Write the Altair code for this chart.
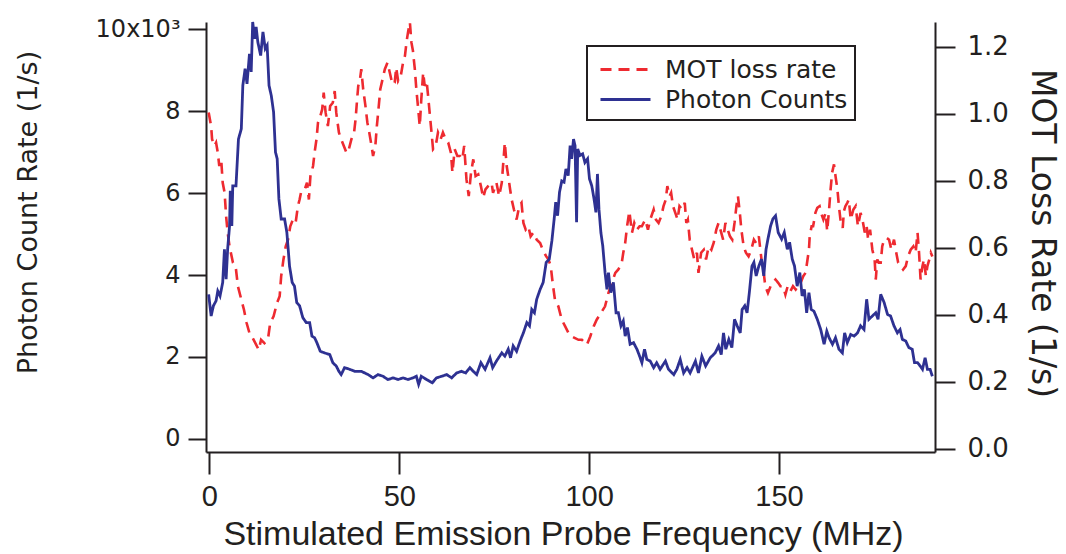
import altair as alt
import pandas as pd

# ---- Photon count rate (x10^3 1/s), left axis ----
photon_freq = [-0.2, 0.45, 1.05, 1.75, 2.2, 2.8, 3.5, 3.96, 4.4, 4.8, 5.3, 5.5, 5.9, 6.15, 7.0, 7.65, 8.4, 8.8, 9.4, 9.9,
               10.55, 11.0, 11.4, 11.9, 12.3, 12.75, 13.5, 14.1, 14.7, 15.2, 15.7, 16.3, 16.9, 17.4, 17.85, 18.3, 18.9,
               19.8, 20.4, 21.1, 21.8, 22.4, 23.0, 23.75, 24.6, 25.5, 26.4, 27.0, 27.7, 28.3, 29.2, 30.3, 31.7, 32.5,
               33.4, 34.1, 34.7, 35.6, 36.9, 38.3, 40.0, 41.8, 43.1, 44.4, 45.7, 47.0, 48.4, 49.7, 51.0, 52.3, 53.6,
               54.5, 55.1, 55.8, 57.2, 58.7, 59.8, 61.2, 62.5, 63.8, 65.1, 66.4, 67.5, 68.6, 69.5, 70.4, 71.5, 72.6,
               73.9, 74.6, 75.6, 77.0, 77.8, 78.7, 79.3, 80.0, 80.9, 82.0, 82.7, 83.6, 84.3, 84.9, 85.6, 86.2, 87.1,
               87.9, 88.7, 89.5, 90.2, 90.8, 91.2, 91.7, 92.2, 92.8, 93.4, 93.9, 94.5, 95.0, 95.4, 95.9, 96.3, 96.7,
               97.0, 97.6, 98.3, 98.9, 99.6, 100.1, 100.7, 101.3, 101.8, 102.2, 102.6, 103.1, 103.6, 104.2, 104.7,
               105.1, 105.7, 106.4, 107.1, 107.7, 108.4, 109.0, 109.5, 110.1, 110.8, 111.7, 112.6, 113.3, 113.9,
               114.6, 115.2, 116.1, 117.0, 117.8, 118.7, 120.1, 120.9, 122.3, 123.1, 124.0, 124.9, 125.8, 126.6,
               128.0, 128.8, 129.7, 130.7, 131.9, 133.2, 134.1, 134.8, 135.4, 136.0, 136.8, 137.6, 138.3, 139.0,
               139.8, 140.3, 141.0, 141.6, 142.2, 142.9, 143.4, 144.0, 144.7, 145.4, 146.0, 146.6, 147.1, 147.8,
               148.4, 149.1, 149.8, 150.7, 151.4, 152.2, 152.8, 153.5, 154.1, 154.8, 155.5, 156.1, 156.7, 157.3,
               157.9, 158.5, 159.2, 160.1, 161.0, 161.9, 162.6, 163.2, 164.1, 164.9, 165.8, 166.7, 167.3, 168.0,
               168.9, 169.8, 170.7, 171.5, 172.4, 173.1, 173.7, 174.6, 175.5, 176.1, 176.8, 177.7, 178.6, 179.4,
               180.3, 181.2, 181.9, 182.5, 183.4, 184.2, 185.1, 185.7, 186.5, 187.2, 187.8, 188.5, 189.1, 189.8, 190.4]
photon_rate = [3.53, 3.0, 3.25, 3.37, 3.61, 3.49, 3.82, 4.63, 3.9, 4.63, 5.2, 6.06, 5.2, 6.18, 6.18, 7.32, 7.57, 8.63,
               9.04, 8.67, 9.4, 8.96, 10.18, 9.77, 10.06, 9.69, 9.36, 9.94, 9.53, 9.61, 8.63, 8.38, 7.98, 7.0, 6.84, 5.86,
               5.37, 5.37, 5.04, 4.22, 3.82, 3.73, 3.33, 3.25, 2.96, 2.84, 2.84, 2.51, 2.47, 2.35, 2.14, 2.10, 2.06, 1.86,
               1.78, 1.65, 1.57, 1.74, 1.70, 1.65, 1.65, 1.57, 1.49, 1.57, 1.53, 1.45, 1.49, 1.45, 1.49, 1.45, 1.49, 1.53,
               1.33, 1.53, 1.45, 1.37, 1.49, 1.53, 1.57, 1.49, 1.61, 1.65, 1.61, 1.74, 1.65, 1.57, 1.86, 1.70, 1.98, 1.74,
               1.90, 2.10, 2.02, 2.19, 1.98, 2.27, 2.14, 2.43, 2.59, 2.84, 2.76, 3.16, 3.08, 3.41, 3.65, 3.82, 4.31, 4.39,
               4.84, 5.37, 5.78, 5.45, 6.02, 6.30, 6.27, 6.59, 6.43, 7.16, 6.84, 7.32, 7.16, 5.29, 7.08, 6.92, 6.96, 6.75,
               6.84, 6.35, 6.18, 5.86, 5.53, 6.47, 5.61, 5.04, 4.71, 4.06, 3.65, 4.06, 3.57, 3.82, 3.08, 3.08, 2.76, 2.88,
               2.51, 2.72, 2.31, 2.35, 2.19, 2.02, 1.86, 2.19, 1.94, 1.90, 1.74, 1.86, 1.70, 1.90, 1.70, 1.57, 1.70, 1.94,
               1.61, 1.74, 1.61, 1.90, 1.61, 2.02, 1.78, 1.98, 2.10, 2.27, 2.06, 2.59, 2.19, 2.43, 2.23, 2.92, 2.76, 2.59,
               3.16, 3.25, 3.08, 3.57, 4.22, 4.31, 3.98, 4.22, 4.39, 3.98, 4.63, 4.88, 5.20, 5.37, 5.45, 5.04, 4.88, 5.04,
               4.63, 4.80, 4.39, 4.22, 3.73, 4.06, 3.49, 3.65, 3.08, 3.57, 3.16, 3.12, 2.92, 2.67, 2.31, 2.63, 2.47, 2.31,
               2.47, 2.19, 2.10, 2.59, 2.35, 2.55, 2.51, 2.59, 2.76, 2.67, 3.41, 2.92, 3.00, 3.08, 2.92, 3.53, 3.33, 3.04,
               3.00, 2.76, 2.59, 2.67, 2.43, 2.39, 2.23, 2.19, 1.86, 1.86, 1.78, 1.70, 1.98, 1.70, 1.70, 1.53]

# ---- MOT loss rate (1/s), right axis ----
mot_freq = [-0.2, 0.45, 0.7, 1.3, 1.75, 2.2, 2.6, 3.1, 3.5, 4.0, 4.4, 4.8, 5.3, 6.2, 6.9, 7.5, 8.4, 9.1, 9.8, 10.55,
            11.4, 12.1, 13.0, 13.6, 14.5, 15.4, 16.0, 16.9, 17.8, 18.5, 18.9, 19.5, 20.1, 20.7, 21.3, 22.0, 22.7, 23.3,
            23.75, 24.2, 25.1, 25.7, 26.2, 26.6, 27.3, 27.7, 28.2, 28.6, 29.2, 29.7, 30.1, 30.6, 31.2, 31.8, 32.5, 33.0,
            33.4, 34.1, 34.7, 35.4, 36.1, 36.5, 37.4, 38.1, 38.5, 38.9, 39.2, 39.6, 40.0, 40.5, 41.1, 41.6, 42.1, 42.7,
            43.1, 43.7, 44.1, 44.6, 45.0, 45.6, 46.2, 46.9, 47.5, 48.2, 48.8, 49.2, 49.7, 50.4, 51.0, 51.5, 51.9, 52.3,
            52.8, 53.2, 53.6, 54.1, 54.5, 55.0, 55.4, 55.8, 56.3, 56.7, 57.2, 57.6, 58.0, 58.5, 58.9, 59.6, 60.2, 60.9,
            61.5, 62.2, 62.9, 63.6, 64.0, 64.6, 65.3, 66.0, 66.6, 67.1, 67.7, 68.3, 68.9, 69.5, 70.1, 70.8, 71.5, 72.1,
            72.7, 73.4, 74.3, 74.7, 75.6, 76.3, 77.0, 77.4, 77.8, 78.3, 78.7, 79.2, 79.6, 80.2, 80.9, 81.6, 82.2, 82.7,
            83.3, 84.0, 84.6, 85.3, 86.2, 87.1, 87.8, 88.7, 89.3, 89.9, 90.4, 91.0, 91.9, 92.8, 93.7, 94.6, 95.4, 96.3,
            97.2, 98.1, 99.4, 100.3, 101.2, 102.0, 103.1, 104.2, 105.1, 106.0, 106.9, 107.7, 108.6, 109.0, 109.5,
            110.0, 110.6, 111.3, 111.9, 112.6, 113.3, 113.9, 114.8, 115.5, 116.1, 117.0, 117.6, 118.3, 119.0, 119.6,
            120.2, 120.6, 121.2, 121.6, 122.1, 122.7, 123.3, 123.8, 124.5, 125.2, 125.6, 126.0, 126.5, 127.1, 127.7,
            128.4, 128.8, 129.5, 130.2, 130.8, 131.5, 132.2, 132.8, 133.5, 134.1, 134.8, 135.3, 135.9, 136.5, 137.1,
            137.7, 138.3, 138.8, 139.2, 139.7, 140.1, 140.7, 141.3, 142.0, 142.7, 143.4, 144.0, 144.7, 145.4, 146.0,
            146.4, 147.1, 147.8, 148.4, 149.1, 149.8, 150.4, 151.1, 151.7, 152.3, 153.0, 153.7, 154.4, 155.0, 155.7,
            156.4, 157.0, 157.4, 157.9, 158.1, 158.6, 159.0, 159.6, 160.1, 160.7, 161.1, 161.7, 162.3, 162.7, 163.2,
            163.6, 164.0, 164.5, 164.9, 165.4, 165.8, 166.2, 166.8, 167.1, 167.5, 168.0, 168.4, 168.9, 169.6, 170.2,
            170.8, 171.5, 172.0, 172.6, 173.1, 173.5, 174.0, 174.6, 175.2, 175.5, 175.9, 176.3, 176.8, 177.2, 177.7,
            178.4, 179.0, 179.6, 180.3, 180.9, 181.4, 182.1, 182.7, 183.4, 184.0, 184.7, 185.4, 186.0, 186.5, 186.9,
            187.3, 187.8, 188.2, 188.7, 189.1, 189.6, 190.0, 190.4]
mot_rate = [1.004, 0.963, 0.924, 0.904, 0.914, 0.884, 0.844, 0.864, 0.794, 0.764, 0.694, 0.645, 0.604, 0.555, 0.545,
            0.485, 0.445, 0.415, 0.375, 0.345, 0.330, 0.315, 0.295, 0.325, 0.315, 0.325, 0.375, 0.395, 0.435, 0.455,
            0.515, 0.565, 0.604, 0.624, 0.664, 0.684, 0.674, 0.724, 0.744, 0.769, 0.774, 0.794, 0.744, 0.814, 0.844,
            0.884, 0.924, 0.974, 0.993, 1.013, 1.063, 1.004, 0.963, 1.023, 1.033, 1.068, 1.004, 0.944, 0.924, 0.904,
            0.884, 0.884, 0.924, 0.944, 0.984, 1.043, 1.083, 1.098, 1.133, 1.073, 1.023, 0.974, 0.944, 0.904, 0.874,
            0.904, 0.963, 1.023, 1.073, 1.103, 1.133, 1.153, 1.123, 1.088, 1.093, 1.138, 1.098, 1.113, 1.153, 1.173,
            1.213, 1.243, 1.273, 1.213, 1.188, 1.133, 1.073, 1.013, 0.963, 1.043, 1.123, 1.083, 1.098, 1.053, 1.004,
            0.944, 0.894, 0.904, 0.944, 0.924, 0.944, 0.924, 0.914, 0.884, 0.824, 0.894, 0.874, 0.874, 0.864, 0.904,
            0.804, 0.754, 0.824, 0.864, 0.814, 0.819, 0.784, 0.749, 0.774, 0.784, 0.794, 0.764, 0.794, 0.754, 0.794,
            0.854, 0.914, 0.844, 0.814, 0.774, 0.744, 0.714, 0.684, 0.724, 0.734, 0.674, 0.654, 0.664, 0.634, 0.645,
            0.624, 0.614, 0.594, 0.574, 0.565, 0.545, 0.495, 0.445, 0.425, 0.385, 0.365, 0.345, 0.335, 0.330, 0.325,
            0.325, 0.310, 0.335, 0.365, 0.385, 0.405, 0.425, 0.465, 0.495, 0.525, 0.535, 0.555, 0.585, 0.614, 0.664,
            0.709, 0.645, 0.674, 0.654, 0.664, 0.664, 0.684, 0.654, 0.684, 0.714, 0.684, 0.674, 0.694, 0.724, 0.744,
            0.784, 0.754, 0.764, 0.724, 0.704, 0.684, 0.724, 0.714, 0.734, 0.674, 0.684, 0.624, 0.594, 0.565, 0.585,
            0.525, 0.585, 0.594, 0.565, 0.604, 0.594, 0.614, 0.654, 0.674, 0.645, 0.624, 0.674, 0.654, 0.634, 0.624,
            0.674, 0.724, 0.754, 0.704, 0.654, 0.604, 0.585, 0.574, 0.594, 0.624, 0.614, 0.634, 0.565, 0.525, 0.485,
            0.465, 0.485, 0.495, 0.505, 0.495, 0.485, 0.485, 0.460, 0.485, 0.470, 0.485, 0.475, 0.485, 0.495, 0.515,
            0.525, 0.555, 0.594, 0.634, 0.664, 0.664, 0.704, 0.719, 0.724, 0.704, 0.684, 0.704, 0.649, 0.714, 0.774,
            0.824, 0.849, 0.814, 0.774, 0.724, 0.684, 0.659, 0.709, 0.724, 0.734, 0.744, 0.684, 0.714, 0.724, 0.664,
            0.704, 0.684, 0.645, 0.664, 0.624, 0.654, 0.594, 0.565, 0.505, 0.565, 0.555, 0.555, 0.604, 0.624, 0.629,
            0.624, 0.594, 0.624, 0.585, 0.555, 0.545, 0.535, 0.545, 0.574, 0.594, 0.604, 0.585, 0.645, 0.585, 0.505,
            0.545, 0.565, 0.515, 0.545, 0.565, 0.585, 0.574]

series_names = ["MOT loss rate", "Photon Counts"]
series_colors = ["#ee2a30", "#2e3192"]
series_dashes = [[11, 7], [1, 0]]

x_ticks = [0, 50, 100, 150]
left_ticks = [0, 2, 4, 6, 8, 10]
right_ticks = [0.0, 0.2, 0.4, 0.6, 0.8, 1.0, 1.2]

df_photon = pd.DataFrame({"freq": photon_freq, "val": photon_rate, "series": "Photon Counts"})
df_mot = pd.DataFrame({"freq": mot_freq, "val": mot_rate, "series": "MOT loss rate"})

INK = "#231f20"
WIDE = "DejaVu Sans"
PLAIN = "Liberation Sans"

x_enc = alt.X(
    "freq:Q",
    scale=alt.Scale(domain=[-0.9, 191.1], nice=False, zero=False),
    axis=alt.Axis(
        values=x_ticks, title="Stimulated Emission Probe  Frequency (MHz)",
        labelFont=PLAIN, labelFontSize=29, labelColor=INK, labelPadding=8,
        tickSize=22, tickWidth=2, tickColor=INK, domainColor=INK, domainWidth=2,
        titleFont=PLAIN, titleFontSize=34, titleColor=INK, titleFontWeight="normal",
        titleX=357, titleY=92, titleAlign="center", titleBaseline="alphabetic",
        grid=False,
    ),
)

legend = alt.Legend(
    title=None, orient="none", legendX=381, legendY=24,
    strokeColor=INK, fillColor="white", padding=7,
    symbolType="M-0.667,0H2.667", symbolSize=900, symbolStrokeWidth=3,
    labelFont=WIDE, labelFontSize=25, labelColor=INK, labelOffset=38, labelLimit=400,
    rowPadding=0,
)

color_enc = alt.Color("series:N", scale=alt.Scale(domain=series_names, range=series_colors), legend=legend)
dash_enc = alt.StrokeDash("series:N", scale=alt.Scale(domain=series_names, range=series_dashes), legend=legend)

mot_layer = alt.Chart(df_mot).mark_line(strokeWidth=2.6).encode(
    x=x_enc,
    y=alt.Y(
        "val:Q",
        scale=alt.Scale(domain=[-0.01, 1.274], nice=False, zero=False),
        axis=alt.Axis(
            orient="right", values=right_ticks, format=".1f", title="MOT Loss Rate (1/s)",
            labelFont=WIDE, labelFontSize=26, labelColor=INK, labelPadding=12,
            tickSize=20, tickWidth=2, tickColor=INK, domainColor=INK, domainWidth=2,
            titleFont=WIDE, titleFontSize=33, titleColor=INK, titleFontWeight="normal",
            titleAngle=90, titleX=96, titleY=211, titleAlign="center", titleBaseline="alphabetic",
            grid=False,
        ),
    ),
    color=color_enc,
    strokeDash=dash_enc,
)

photon_layer = alt.Chart(df_photon).mark_line(strokeWidth=2.8).encode(
    x=x_enc,
    y=alt.Y(
        "val:Q",
        scale=alt.Scale(domain=[-0.32, 10.18], nice=False, zero=False),
        axis=alt.Axis(
            orient="left", values=left_ticks, title="Photon Count Rate (1/s)",
            labelExpr="datum.value == 10 ? '10x10³' : datum.label",
            labelFont=WIDE, labelFontSize=24, labelColor=INK, labelPadding=8,
            tickSize=18, tickWidth=2, tickColor=INK, domainColor=INK, domainWidth=2,
            titleFont=WIDE, titleFontSize=27, titleColor=INK, titleFontWeight="normal",
            titleAngle=270, titleX=-170, titleY=190, titleAlign="center", titleBaseline="alphabetic",
            grid=False,
        ),
    ),
    color=color_enc,
    strokeDash=dash_enc,
)

chart = (
    alt.layer(mot_layer, photon_layer)
    .resolve_scale(y="independent")
    .properties(
        width=729, height=430,
        autosize=alt.AutoSizeParams(type="none"),
        padding={"left": 206, "top": 22, "right": 131, "bottom": 102},
        background="white",
    )
    .configure_view(stroke="transparent")
    .configure_legend(strokeWidth=2)
)

chart.save("out.html", embed_options={"renderer": "svg", "actions": False})
